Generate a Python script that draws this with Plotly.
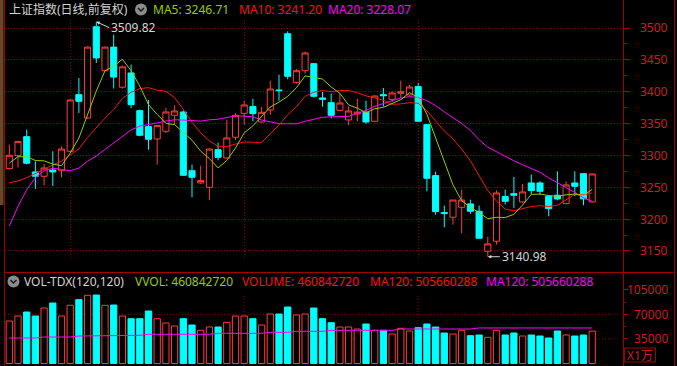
import plotly.graph_objects as go

W, H = 677, 366

# ---------------- data ----------------
days = list(range(68))

open_ = [3279.3, 3300.0, 3329.5, 3274.0, 3267.3, 3277.0, 3276.0, 3306.5, 3395.4, 3358.8,
         3502.0, 3433.0, 3470.0, 3407.0, 3429.4, 3370.3, 3345.2, 3325.8, 3337.9, 3363.0,
         3368.2, 3276.0, 3256.8, 3250.0, 3309.0, 3296.0, 3328.5, 3366.0, 3376.6, 3352.5,
         3371.3, 3402.7, 3491.0, 3414.7, 3433.0, 3444.0, 3390.2, 3382.8, 3370.8, 3355.7,
         3365.0, 3367.7, 3353.6, 3395.4, 3388.0, 3397.5, 3394.9, 3408.0, 3348.3, 3268.3,
         3210.3, 3203.0, 3218.6, 3223.9, 3212.4, 3149.6, 3165.3, 3235.4, 3240.0, 3227.0,
         3256.8, 3256.8, 3235.9, 3237.5, 3224.4, 3256.8, 3271.4, 3227.0]
high = [3317.0, 3323.0, 3340.5, 3290.8, 3286.6, 3306.5, 3314.0, 3388.0, 3421.6, 3471.0,
        3509.82, 3471.0, 3489.5, 3441.0, 3442.5, 3372.0, 3387.0, 3348.0, 3374.5, 3378.7,
        3370.8, 3285.6, 3284.0, 3311.0, 3320.0, 3356.0, 3366.0, 3386.0, 3389.0, 3376.0,
        3417.4, 3426.8, 3494.8, 3436.0, 3462.9, 3445.0, 3399.6, 3397.0, 3397.0, 3377.0,
        3389.0, 3386.0, 3394.0, 3405.9, 3400.6, 3417.4, 3410.6, 3414.0, 3349.4, 3274.6,
        3221.2, 3230.0, 3246.3, 3230.6, 3221.2, 3172.6, 3245.3, 3246.3, 3266.2, 3255.2,
        3269.9, 3259.4, 3238.0, 3275.0, 3259.4, 3275.0, 3272.0, 3271.0]
low = [3277.7, 3281.0, 3285.6, 3247.4, 3253.0, 3252.0, 3265.7, 3305.0, 3366.6, 3357.7,
       3445.0, 3432.0, 3405.0, 3405.0, 3374.5, 3330.0, 3309.0, 3285.6, 3335.0, 3348.3,
       3267.8, 3234.3, 3255.2, 3230.0, 3292.4, 3295.0, 3324.0, 3348.3, 3353.6, 3351.5,
       3364.0, 3386.0, 3419.5, 3412.7, 3428.3, 3391.0, 3376.6, 3358.3, 3369.8, 3347.3,
       3353.6, 3349.4, 3353.0, 3377.0, 3383.8, 3390.2, 3393.8, 3353.0, 3243.7, 3207.0,
       3187.2, 3191.4, 3177.8, 3208.2, 3169.5, 3140.98, 3160.0, 3222.8, 3217.6, 3225.4,
       3238.5, 3238.5, 3204.5, 3229.6, 3223.3, 3235.9, 3221.8, 3226.0]
close = [3300.2, 3322.0, 3287.7, 3267.3, 3280.3, 3274.0, 3310.0, 3387.0, 3385.0, 3470.0,
         3453.0, 3470.0, 3423.0, 3439.0, 3379.7, 3331.6, 3325.3, 3346.8, 3368.2, 3369.8,
         3268.8, 3265.7, 3260.5, 3310.0, 3297.0, 3327.4, 3363.0, 3379.2, 3365.6, 3367.7,
         3404.3, 3401.7, 3424.2, 3433.0, 3460.8, 3392.8, 3388.0, 3363.0, 3382.3, 3369.8,
         3368.0, 3352.5, 3393.3, 3393.8, 3398.0, 3400.0, 3407.4, 3353.6, 3264.1, 3211.8,
         3208.7, 3230.0, 3230.0, 3212.4, 3170.0, 3161.1, 3241.1, 3228.0, 3237.5, 3242.7,
         3244.8, 3243.7, 3216.5, 3231.7, 3253.7, 3251.6, 3231.7, 3270.9]

ma5 = [3288.0, 3298.0, 3298.0, 3292.0, 3291.5, 3286.3, 3283.9, 3303.7, 3327.3, 3365.2,
       3401.0, 3433.0, 3440.2, 3451.0, 3432.9, 3408.7, 3379.7, 3364.5, 3350.3, 3348.3,
       3335.8, 3323.9, 3306.6, 3295.0, 3280.4, 3292.1, 3311.6, 3335.3, 3346.4, 3360.6,
       3376.0, 3383.7, 3392.7, 3406.2, 3424.8, 3422.5, 3419.8, 3407.5, 3397.4, 3379.2,
       3374.2, 3367.1, 3373.2, 3375.5, 3381.1, 3387.5, 3398.5, 3390.6, 3364.6, 3327.4,
       3289.1, 3253.6, 3228.9, 3218.6, 3210.2, 3200.7, 3202.9, 3202.5, 3207.5, 3222.1,
       3238.8, 3239.3, 3237.0, 3235.9, 3238.1, 3239.4, 3237.0, 3246.71]
ma10 = [3257.0, 3260.0, 3265.0, 3271.0, 3278.0, 3285.0, 3291.0, 3301.0, 3310.0, 3328.4,
        3343.7, 3358.5, 3372.0, 3389.2, 3399.1, 3404.9, 3406.4, 3402.4, 3400.7, 3390.6,
        3372.3, 3351.8, 3335.6, 3322.7, 3314.4, 3314.0, 3317.8, 3321.0, 3320.7, 3320.5,
        3334.1, 3347.7, 3364.0, 3376.3, 3392.7, 3399.3, 3401.8, 3400.1, 3401.8, 3402.0,
        3398.4, 3393.5, 3390.4, 3386.5, 3380.2, 3380.9, 3382.8, 3381.9, 3370.1, 3354.3,
        3338.3, 3326.1, 3309.8, 3291.6, 3268.8, 3244.9, 3228.3, 3215.7, 3213.1, 3216.2,
        3219.8, 3221.1, 3219.8, 3221.7, 3230.1, 3239.1, 3238.2, 3241.20]
ma20 = [3189.0, 3220.0, 3246.0, 3265.0, 3276.0, 3280.0, 3278.0, 3276.0, 3280.0, 3291.0,
        3299.0, 3309.0, 3320.0, 3330.0, 3340.0, 3346.0, 3348.0, 3351.0, 3354.0, 3356.0,
        3355.5, 3355.0, 3353.8, 3356.0, 3356.8, 3359.5, 3362.1, 3361.7, 3360.7, 3355.6,
        3353.2, 3349.8, 3349.8, 3349.5, 3353.6, 3356.7, 3359.8, 3360.6, 3361.3, 3361.3,
        3366.3, 3370.6, 3377.2, 3381.4, 3386.5, 3390.1, 3392.3, 3391.0, 3386.0, 3378.2,
        3368.4, 3359.8, 3350.1, 3339.1, 3324.5, 3312.9, 3305.6, 3298.8, 3291.6, 3285.3,
        3279.1, 3273.6, 3264.8, 3256.7, 3249.5, 3242.0, 3233.3, 3228.07]

# volume in units of 10,000 (万)
volume = [60460, 67570, 73260, 67570, 78950, 86070, 67570, 82800, 90800, 97000,
          97450, 82800, 83220, 67570, 63730, 63730, 74690, 63730, 57610, 53340,
          63730, 54770, 47220, 51920, 51920, 58600, 67570, 67570, 63730, 54770,
          70420, 70420, 80380, 68990, 70420, 78950, 63730, 58040, 51920, 51920,
          49080, 56190, 47220, 47220, 41960, 50070, 46230, 50920, 56190, 51920,
          43380, 41960, 47220, 39540, 40540, 37270, 47220, 40540, 43380, 39120,
          40540, 39120, 36270, 46230, 40540, 39120, 40540, 46084.272]
vol_ma120 = [36270, 36270, 36270, 36270, 37690, 37690, 37690, 37690, 39120, 39120,
             39120, 40110, 40110, 40110, 40110, 40110, 41530, 41530, 41530, 41530,
             41530, 41530, 41530, 41530, 42960, 42960, 42960, 42960, 42960, 42960,
             44380, 44380, 44380, 45800, 45800, 45800, 45800, 47220, 47220, 47220,
             47220, 47220, 47220, 47220, 47220, 49080, 49080, 49080, 49080, 49080,
             49080, 49080, 49080, 49080, 50566.0288, 50566.0288, 50566.0288, 50566.0288, 50566.0288, 50566.0288,
             50566.0288, 50566.0288, 50566.0288, 50566.0288, 50566.0288, 50566.0288, 50566.0288, 50566.0288]

price_ticks = [3150, 3200, 3250, 3300, 3350, 3400, 3450, 3500]
price_tick_labels = ["3150", "3200", "3250", "3300", "3350", "3400", "3450", "3500"]
vol_ticks = [35000, 70000, 105000]
vol_tick_labels = ["35000", "70000", "105000"]
vol_grid = [35000, 70000]
month_starts = [7, 27, 47]

title_text = "上证指数(日线,前复权)"
vol_title = "VOL-TDX(120,120)"

# ---------------- style ----------------
BG = "#000000"
RED = "#ff3c3c"
CYAN = "#00ffff"
C_MA5 = "#9ccc00"
C_MA10 = "#ff1010"
C_MA20 = "#ff00ff"
FRAME = "#a00000"
GRID = "#8c0000"
LABEL = "#c81e1e"
TXT = "#d4d4d4"
FONT = "Noto Sans, Noto Sans CJK SC, sans-serif"
DASH = "1px,2px"


def px(x):
    return x / W


def py(y):
    return 1 - y / H


X0, X1 = 5, 623            # plot area pixels
MAIN_T, MAIN_B = 20, 259   # main panel pixels
VOL_T, VOL_B = 287, 366    # volume panel pixels
STEP, FIRST = 8.7, 9.3
xr = [(X0 - FIRST) / STEP, (X1 - FIRST) / STEP]
PPX = 0.6371               # px per point
yr_main = [3500 - (MAIN_B - 28) / PPX, 3500 + (28 - MAIN_T) / PPX]
VPX = 1422.8               # volume per px
VZERO = 363.5
yr_vol = [(VZERO - VOL_B) * VPX, (VZERO - VOL_T) * VPX]

up = [c >= o for o, c in zip(open_, close)]

fig = go.Figure()
fig.add_trace(go.Candlestick(
    x=days, open=open_, high=high, low=low, close=close,
    increasing=dict(line=dict(color=RED, width=1), fillcolor=BG),
    decreasing=dict(line=dict(color=CYAN, width=1), fillcolor=CYAN),
    whiskerwidth=0, hoverinfo="skip", xaxis="x", yaxis="y"))
for vals, col in [(ma20, C_MA20), (ma10, C_MA10), (ma5, C_MA5)]:
    fig.add_trace(go.Scatter(x=days, y=vals, mode="lines", line=dict(color=col, width=1),
                             hoverinfo="skip", xaxis="x", yaxis="y"))

fig.add_trace(go.Bar(
    x=days, y=volume, width=0.72,
    marker=dict(color=[BG if u else CYAN for u in up],
                line=dict(color=[RED if u else CYAN for u in up], width=1)),
    hoverinfo="skip", xaxis="x2", yaxis="y2"))
fig.add_trace(go.Scatter(x=days, y=vol_ma120, mode="lines", line=dict(color=C_MA20, width=1),
                         hoverinfo="skip", xaxis="x2", yaxis="y2"))

fig.update_layout(
    width=W, height=H, margin=dict(l=0, r=0, t=0, b=0),
    paper_bgcolor=BG, plot_bgcolor=BG, showlegend=False,
    boxgap=0.3, boxgroupgap=0,
    xaxis=dict(domain=[px(X0), px(X1)], range=xr, tickmode="array", tickvals=month_starts,
               showticklabels=False, ticks="", showgrid=True, gridcolor=GRID, griddash=DASH,
               gridwidth=1, zeroline=False, showline=False, rangeslider=dict(visible=False),
               anchor="y"),
    yaxis=dict(domain=[py(MAIN_B), py(MAIN_T)], range=yr_main, tickmode="array",
               tickvals=price_ticks, showticklabels=False, ticks="outside", ticklen=6,
               tickcolor=FRAME, tickwidth=1, showgrid=True, gridcolor=GRID, griddash=DASH,
               zeroline=False, showline=False, side="right", anchor="free", position=px(X1),
               minor=dict(dtick=25, tick0=3125, ticks="outside", ticklen=3, tickcolor=FRAME,
                          showgrid=False)),
    xaxis2=dict(domain=[px(X0), px(X1)], range=xr, matches="x", showticklabels=False,
                ticks="", showgrid=False, zeroline=False, showline=False, anchor="y2"),
    yaxis2=dict(domain=[py(VOL_B), py(VOL_T)], range=yr_vol, tickmode="array",
                tickvals=vol_ticks, showticklabels=False, ticks="outside", ticklen=4,
                tickcolor=FRAME, showgrid=False, zeroline=False, showline=False,
                side="right", anchor="free", position=px(X1),
                minor=dict(tickvals=[52500, 87500], ticks="outside", ticklen=2,
                           tickcolor=FRAME, showgrid=False)),
)

shapes = []
# volume panel grid
for v in vol_grid:
    shapes.append(dict(type="line", xref="paper", yref="y2", x0=px(X0), x1=px(620), y0=v, y1=v,
                       line=dict(color=GRID, width=1, dash=DASH), layer="below"))
for m in month_starts:
    shapes.append(dict(type="line", xref="x2", yref="paper", x0=m, x1=m, y0=0, y1=py(294),
                       line=dict(color=GRID, width=1, dash=DASH), layer="below"))
# frame
shapes += [
    dict(type="rect", xref="paper", yref="paper", x0=0, x1=px(3.5), y0=py(205), y1=1,
         fillcolor="#6a4629", line=dict(width=0), layer="below"),
    dict(type="line", xref="paper", yref="paper", x0=px(4.5), x1=px(4.5), y0=0, y1=1,
         line=dict(color=FRAME, width=1)),
    dict(type="line", xref="paper", yref="paper", x0=px(623.5), x1=px(623.5), y0=0, y1=1,
         line=dict(color=FRAME, width=1)),
    dict(type="line", xref="paper", yref="paper", x0=px(674.5), x1=px(674.5), y0=0, y1=1,
         line=dict(color=FRAME, width=1)),
    dict(type="line", xref="paper", yref="paper", x0=px(4.5), x1=px(674.5), y0=py(272.5), y1=py(272.5),
         line=dict(color=FRAME, width=1)),
    dict(type="rect", xref="paper", yref="paper", x0=px(624.5), x1=px(655.5), y0=py(362), y1=py(348),
         line=dict(color=FRAME, width=1)),
]
# dropdown icons
for cx, cy in [(141, 9.5), (13.5, 281.5)]:
    shapes.append(dict(type="circle", xref="paper", yref="paper", x0=px(cx - 6), x1=px(cx + 6),
                       y0=py(cy + 6), y1=py(cy - 6), fillcolor="#8c8c8c", line=dict(width=0)))
    shapes.append(dict(type="path", xref="paper", yref="paper",
                       path=f"M {px(cx-3)},{py(cy-1.5)} L {px(cx)},{py(cy+1.5)} L {px(cx+3)},{py(cy-1.5)}",
                       line=dict(color="#1a1a1a", width=1.5)))
fig.update_layout(shapes=shapes)

ann = []


def text(x, y, s, color, xanchor="left", size=12, xref="paper", yref="paper"):
    ann.append(dict(x=px(x) if xref == "paper" else x, y=py(y) if yref == "paper" else y,
                    xref=xref, yref=yref, text=s, showarrow=False, xanchor=xanchor,
                    yanchor="middle", font=dict(family=FONT, size=size, color=color)))


text(7, 9.5, title_text, TXT)
text(151, 9.5, f"MA5: {ma5[-1]:.2f}", C_MA5)
text(237, 9.5, f"MA10: {ma10[-1]:.2f}", C_MA10)
text(326, 9.5, f"MA20: {ma20[-1]:.2f}", C_MA20)
text(22, 281.5, vol_title, TXT)
text(133, 281.5, f"VVOL: {round(volume[-1] * 10000)}", C_MA5)
text(240, 281.5, f"VOLUME: {round(volume[-1] * 10000)}", C_MA10)
text(367.5, 281.5, f"MA120: {round(vol_ma120[-1] * 10000)}", C_MA10)
text(483.5, 281.5, f"MA120: {round(vol_ma120[-1] * 10000)}", C_MA20)
text(640, 355, "X1万", LABEL, xanchor="center")

for v, s in zip(price_ticks, price_tick_labels):
    ann.append(dict(x=px(670), y=v, xref="paper", yref="y", text=s, showarrow=False,
                    xanchor="right", yanchor="middle", font=dict(family=FONT, size=12, color=LABEL)))
for v, s in zip(vol_ticks, vol_tick_labels):
    ann.append(dict(x=px(670), y=v, xref="paper", yref="y2", text=s, showarrow=False,
                    xanchor="right", yanchor="middle", font=dict(family=FONT, size=12, color=LABEL)))

# high / low markers
hi_i = high.index(max(high))
lo_i = low.index(min(low))
ann.append(dict(x=hi_i, y=high[hi_i], xref="x", yref="y", text=f"{high[hi_i]:.2f}",
                showarrow=True, ax=13, ay=6, xanchor="left", yanchor="middle",
                arrowhead=2, arrowsize=0.7, arrowwidth=1, arrowcolor=TXT,
                font=dict(family=FONT, size=12, color=TXT)))
ann.append(dict(x=lo_i, y=low[lo_i], xref="x", yref="y", text=f"{low[lo_i]:.2f}",
                showarrow=True, ax=12, ay=0, xanchor="left", yanchor="middle",
                arrowhead=2, arrowsize=0.7, arrowwidth=1, arrowcolor=TXT,
                font=dict(family=FONT, size=12, color=TXT)))
fig.update_layout(annotations=ann)

fig.write_html("out.html", config={"displayModeBar": False},
               post_script="document.body.style.margin='0';document.body.style.overflow='hidden';")
